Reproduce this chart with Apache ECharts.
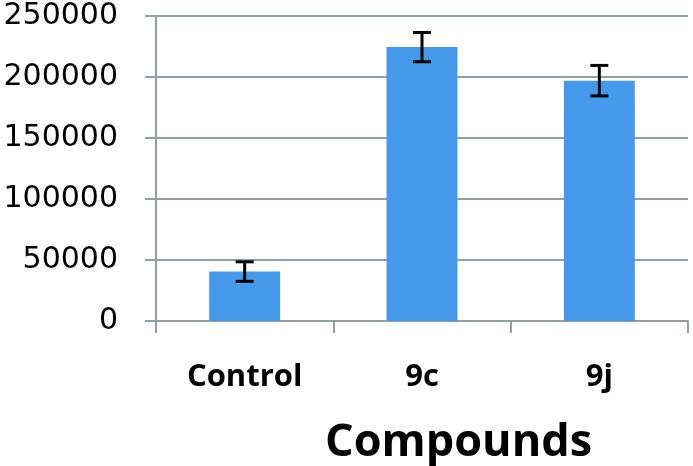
<!DOCTYPE html>
<html><head><meta charset="utf-8">
<script src="https://cdn.jsdelivr.net/npm/echarts@6/dist/echarts.min.js"></script>
<style>html,body{margin:0;padding:0;background:#fff}#c{width:693px;height:466px}</style>
</head><body><div id="c"></div>
<script>
const categories = ['Control', '9c', '9j'];
const values = [40500, 224500, 197000];
const errors = [8000, 12000, 12500];
const yTicks = [0, 50000, 100000, 150000, 200000, 250000];

const gridColor = '#8fa2a1';
const chart = echarts.init(document.getElementById('c'));
const errData = values.map((v, i) => [i, v - errors[i], v + errors[i]]);
chart.setOption({
  animation: false,
  grid: { left: 156, right: 5, top: 16, bottom: 145, containLabel: false, outerBoundsMode: 'none' },
  xAxis: {
    type: 'category', data: categories,
    axisLine: { show: true, lineStyle: { color: gridColor, width: 2 } },
    axisTick: { show: true, length: 12, lineStyle: { color: gridColor, width: 2 } },
    axisLabel: { margin: 41, color: '#000', fontFamily: 'Open Sans', fontWeight: 'bold', fontSize: 31 },
    splitLine: { show: false }
  },
  yAxis: {
    type: 'value', min: yTicks[0], max: yTicks[yTicks.length - 1], interval: 50000,
    axisLine: { show: true, lineStyle: { color: gridColor, width: 2 } },
    axisTick: { show: true, length: 11, lineStyle: { color: gridColor, width: 2 } },
    axisLabel: { margin: 38, color: '#000', fontFamily: 'DejaVu Sans', fontSize: 30,
      formatter: v => String(v) },
    splitLine: { show: true, lineStyle: { color: gridColor, width: 2 } }
  },
  graphic: [{
    type: 'text', left: 325, top: 421,
    style: { text: 'Compounds', font: 'bold 45px "Open Sans"', fill: '#000' }
  }],
  series: [{
    type: 'bar', data: values, barWidth: '40%',
    itemStyle: { color: '#4599ea' }
  }, {
    type: 'custom', data: errData, z: 10,
    renderItem: function (params, api) {
      const x = api.value(0);
      const lo = api.coord([x, api.value(1)]);
      const hi = api.coord([x, api.value(2)]);
      const hw = 9;
      const st = { stroke: '#000', lineWidth: 3 };
      return { type: 'group', children: [
        { type: 'line', shape: { x1: hi[0], y1: hi[1], x2: lo[0], y2: lo[1] }, style: st },
        { type: 'line', shape: { x1: hi[0] - hw, y1: hi[1], x2: hi[0] + hw, y2: hi[1] }, style: st },
        { type: 'line', shape: { x1: lo[0] - hw, y1: lo[1], x2: lo[0] + hw, y2: lo[1] }, style: st }
      ]};
    }
  }]
});
</script></body></html>
